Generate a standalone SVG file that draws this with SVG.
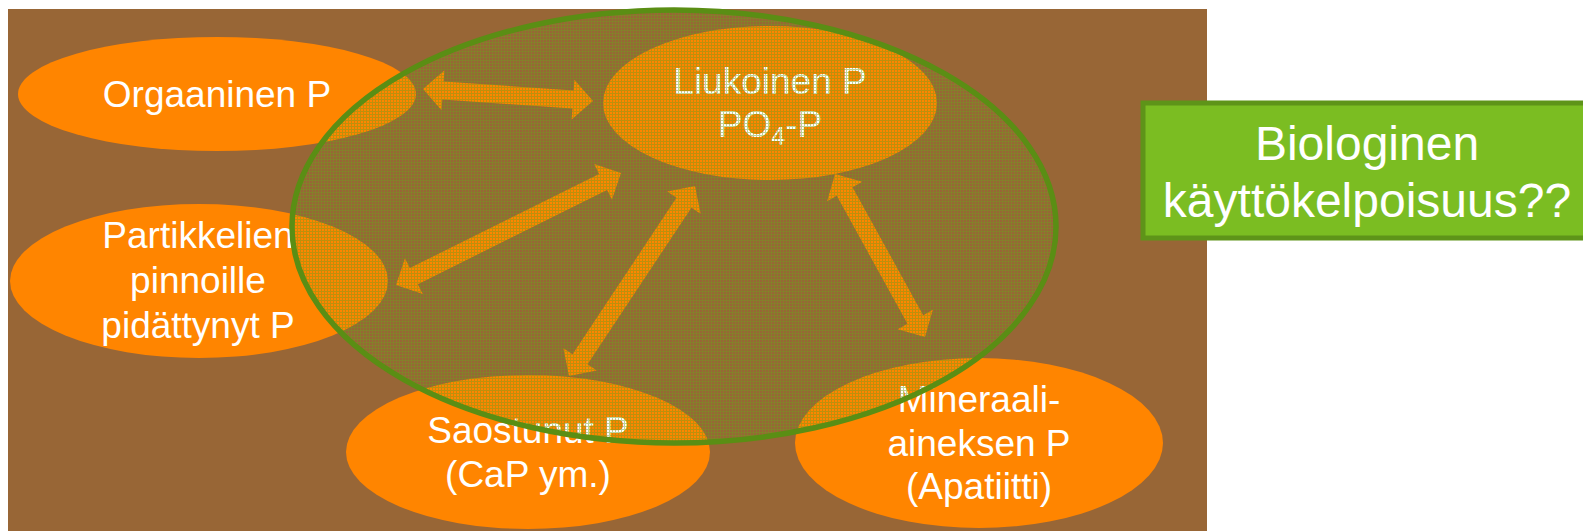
<svg xmlns="http://www.w3.org/2000/svg" width="1583" height="531" viewBox="0 0 1583 531">
<style>
.bg{fill:#986636}
.node{fill:#FF8500}
.lbl{font-family:"Liberation Sans",Arial,sans-serif;font-size:37px;fill:#FFFFFF;text-anchor:middle}
.arrow{fill:#FF8500}
.big{fill:url(#mesh);stroke:#5A8E14;stroke-width:5.5}
.box{fill:#7BBD22;stroke:#5E9419;stroke-width:5}
.boxlbl{font-family:"Liberation Sans",Arial,sans-serif;font-size:48px;fill:#FFFFFF;text-anchor:middle}
</style>
<defs>
<pattern id="mesh" width="3" height="3" patternUnits="userSpaceOnUse">
<rect x="0" y="0" width="3" height="1" fill="#6E9E1A" fill-opacity="0.45"/>
<rect x="0" y="1" width="1" height="2" fill="#6E9E1A" fill-opacity="0.45"/>
</pattern>
</defs>
<rect class="bg" x="8" y="9" width="1199" height="522"/>
<g id="node-orgaaninen">
<ellipse class="node" cx="217" cy="94" rx="199" ry="57"/>
<text class="lbl" x="217" y="107">Orgaaninen P</text>
</g>
<g id="node-liukoinen">
<ellipse class="node" cx="770" cy="103" rx="167" ry="77"/>
<text class="lbl" x="770" y="94">Liukoinen P</text>
<text class="lbl" x="770" y="137">PO<tspan font-size="25" dy="8">4</tspan><tspan dy="-8">-P</tspan></text>
</g>
<g id="node-partikkelien">
<ellipse class="node" cx="199" cy="281" rx="189" ry="77"/>
<text class="lbl" x="198" y="248">Partikkelien</text>
<text class="lbl" x="198" y="293">pinnoille</text>
<text class="lbl" x="198" y="338">pidättynyt P</text>
</g>
<g id="node-saostunut">
<ellipse class="node" cx="528" cy="452" rx="182" ry="77"/>
<text class="lbl" x="528" y="443">Saostunut P</text>
<text class="lbl" x="528" y="487">(CaP ym.)</text>
</g>
<g id="node-mineraali">
<ellipse class="node" cx="979" cy="443" rx="184" ry="85"/>
<text class="lbl" x="979" y="412">Mineraali-</text>
<text class="lbl" x="979" y="456">aineksen P</text>
<text class="lbl" x="979" y="499">(Apatiitti)</text>
</g>
<g id="connectors">
<path class="arrow" transform="translate(423,89) rotate(4.04)" d="M0,0 L20,-20 L20,-9 L150.4,-9 L150.4,-20 L170.4,0 L150.4,20 L150.4,9 L20,9 L20,20 Z"/>
<path class="arrow" transform="translate(396,285) rotate(-26.46)" d="M0,0 L20,-20 L20,-9 L231.3,-9 L231.3,-20 L251.3,0 L231.3,20 L231.3,9 L20,9 L20,20 Z"/>
<path class="arrow" transform="translate(569,376) rotate(-56.45)" d="M0,0 L20,-20 L20,-9 L208,-9 L208,-20 L228,0 L208,20 L208,9 L20,9 L20,20 Z"/>
<path class="arrow" transform="translate(835,174) rotate(61.1)" d="M0,0 L20,-20 L20,-9 L166.2,-9 L166.2,-20 L186.2,0 L166.2,20 L166.2,9 L20,9 L20,20 Z"/>
</g>
<g id="region-biologinen">
<ellipse class="big" cx="674" cy="226.5" rx="382" ry="216.5"/>
</g>
<g id="node-kayttokelpoisuus">
<rect class="box" x="1143" y="103" width="460" height="135"/>
<text class="boxlbl" x="1367" y="160">Biologinen</text>
<text class="boxlbl" x="1367" y="217">käyttökelpoisuus??</text>
</g>
</svg>
